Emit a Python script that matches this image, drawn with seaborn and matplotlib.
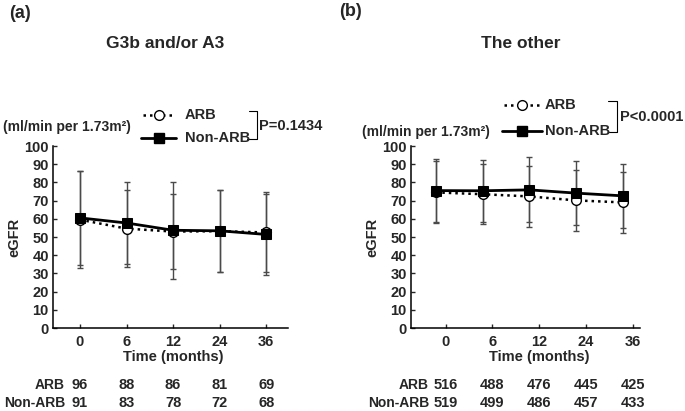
import numpy as np
import pandas as pd
import matplotlib
matplotlib.use("Agg")
import matplotlib.pyplot as plt
import matplotlib.transforms as mtransforms
from matplotlib.lines import Line2D
import seaborn as sns

# data (eGFR mean and SD by visit)
time_labels = ["0", "6", "12", "24", "36"]

left_arb_mean = [59.5, 54.6, 53.0, 53.2, 52.5]
left_arb_sd = [26.5, 21.0, 20.8, 22.5, 22.0]
left_non_mean = [60.5, 57.7, 53.7, 53.4, 51.4]
left_non_sd = [26.0, 22.3, 26.6, 22.6, 22.5]

right_arb_mean = [74.5, 73.5, 72.3, 70.1, 69.0]
right_arb_sd = [17.0, 16.5, 16.6, 16.8, 16.6]
right_non_mean = [75.5, 75.4, 75.9, 74.1, 72.6]
right_non_sd = [17.3, 17.0, 17.8, 17.7, 17.4]

# number at risk
left_arb_n = [96, 88, 86, 81, 69]
left_non_n = [91, 83, 78, 72, 68]
right_arb_n = [516, 488, 476, 445, 425]
right_non_n = [519, 499, 486, 457, 433]

sns.set_style("ticks")
plt.rcParams["font.family"] = ["Liberation Sans", "DejaVu Sans"]
plt.rcParams["font.weight"] = "bold"

W, H = 685, 411
FS = 10.5
DOTS = (0, (1, 1.6))
fig = plt.figure(figsize=(W / 100, H / 100), dpi=100)


def fx(x):
    return x / W


def fy(y):
    return 1 - y / H


def panel(rect, xlim, shift, arb_m, arb_s, non_m, non_s, arb_n, non_n):
    ax = fig.add_axes(rect)
    pos = np.arange(len(time_labels))
    df = pd.DataFrame({"pos": pos + shift, "arb": arb_m, "non": non_m})

    ax.errorbar(df["pos"], arb_m, yerr=arb_s, fmt="none", ecolor="#4a4a4a",
                elinewidth=1, capsize=2.5, capthick=1, zorder=1)
    ax.errorbar(df["pos"], non_m, yerr=non_s, fmt="none", ecolor="#4a4a4a",
                elinewidth=1, capsize=2.5, capthick=1, zorder=1)
    sns.lineplot(data=df, x="pos", y="arb", ax=ax, color="black", linestyle=DOTS,
                 linewidth=1.8, marker="o", markersize=7, markerfacecolor="white",
                 markeredgecolor="black", markeredgewidth=1, zorder=2)
    sns.lineplot(data=df, x="pos", y="non", ax=ax, color="black", linestyle="-",
                 linewidth=2, marker="s", markersize=7.5, markerfacecolor="black",
                 markeredgecolor="black", zorder=3)

    ax.set_xlim(*xlim)
    ax.set_ylim(0, 100)
    ax.set_xticks(pos)
    ax.set_xticklabels(time_labels)
    ax.set_yticks(np.arange(0, 101, 10))
    ax.set_xlabel("")
    ax.set_ylabel("eGFR", fontsize=FS, fontweight="bold", labelpad=2)
    ax.tick_params(direction="in", length=3, width=1, labelsize=FS)
    ax.tick_params(axis="x", pad=5)
    ax.tick_params(axis="y", pad=3)
    for lab in ax.get_xticklabels() + ax.get_yticklabels():
        lab.set_fontweight("bold")
    for s in ["top", "right"]:
        ax.spines[s].set_visible(False)
    for s in ["left", "bottom"]:
        ax.spines[s].set_linewidth(1.1)
        ax.spines[s].set_color("black")

    tr = mtransforms.blended_transform_factory(ax.transData, fig.transFigure)
    ax.text(2, fy(357), "Time (months)", transform=tr, ha="center", va="center",
            fontsize=FS, fontweight="bold")
    for i in pos:
        ax.text(i, fy(385), str(arb_n[i]), transform=tr, ha="center", va="center",
                fontsize=FS, fontweight="bold")
        ax.text(i, fy(403), str(non_n[i]), transform=tr, ha="center", va="center",
                fontsize=FS, fontweight="bold")
    return ax


ax1 = panel([fx(53), fy(328), (288 - 53) / W, (328 - 146) / H], (-0.58, 4.47), 0.0,
            left_arb_mean, left_arb_sd, left_non_mean, left_non_sd,
            left_arb_n, left_non_n)
ax2 = panel([fx(411), fy(328), (640 - 411) / W, (328 - 146) / H], (-0.74, 4.15), -0.21,
            right_arb_mean, right_arb_sd, right_non_mean, right_non_sd,
            right_arb_n, right_non_n)

# row labels of the at-risk table
for xr in (65, 429):
    fig.text(fx(xr), fy(385), "ARB", ha="right", va="center", fontsize=10, fontweight="bold")
    fig.text(fx(xr), fy(403), "Non-ARB", ha="right", va="center", fontsize=10, fontweight="bold")

# panel letters and titles
fig.text(fx(9), fy(13), "(a)", ha="left", va="center", fontsize=13, fontweight="bold")
fig.text(fx(339), fy(12), "(b)", ha="left", va="center", fontsize=13, fontweight="bold")
fig.text(fx(165), fy(43), "G3b and/or A3", ha="center", va="center", fontsize=12.5, fontweight="bold")
fig.text(fx(521), fy(43), "The other", ha="center", va="center", fontsize=12.5, fontweight="bold")

# unit labels
fig.text(fx(3), fy(127), "(ml/min per 1.73m²)", ha="left", va="center", fontsize=10, fontweight="bold")
fig.text(fx(362), fy(132), "(ml/min per 1.73m²)", ha="left", va="center", fontsize=10, fontweight="bold")


def legend_block(x0, x1, xm, xt, y_arb, y_non, bx, bl_top, bl_bot, ptext, px, py):
    fig.add_artist(Line2D([fx(x0), fx(x1)], [fy(y_arb)] * 2, transform=fig.transFigure,
                          color="black", linestyle=DOTS, linewidth=1.8))
    fig.add_artist(Line2D([fx(xm)], [fy(y_arb)], transform=fig.transFigure, marker="o",
                          markersize=7, markerfacecolor="white", markeredgecolor="black",
                          linestyle="none"))
    fig.add_artist(Line2D([fx(x0 - 2), fx(x1 + 2)], [fy(y_non)] * 2, transform=fig.transFigure,
                          color="black", linestyle="-", linewidth=2))
    fig.add_artist(Line2D([fx(xm)], [fy(y_non)], transform=fig.transFigure, marker="s",
                          markersize=7.5, markerfacecolor="black", markeredgecolor="black",
                          linestyle="none"))
    fig.text(fx(xt), fy(y_arb), "ARB", ha="left", va="center", fontsize=FS, fontweight="bold")
    fig.text(fx(xt), fy(y_non), "Non-ARB", ha="left", va="center", fontsize=FS, fontweight="bold")
    fig.add_artist(Line2D([fx(bl_top), fx(bx), fx(bx), fx(bl_bot)],
                          [fy(y_arb - 4), fy(y_arb - 4), fy(y_non + 1), fy(y_non + 1)],
                          transform=fig.transFigure, color="black", linewidth=0.8))
    fig.text(fx(px), fy(py), ptext, ha="left", va="center", fontsize=FS, fontweight="bold")


legend_block(143, 174, 159, 185, 115, 138, 257, 249, 247, "P=0.1434", 259, 126)
legend_block(504, 540, 522, 545, 105, 131, 617, 608, 609, "P<0.0001", 620, 117)

fig.savefig("out.png", dpi=100)
